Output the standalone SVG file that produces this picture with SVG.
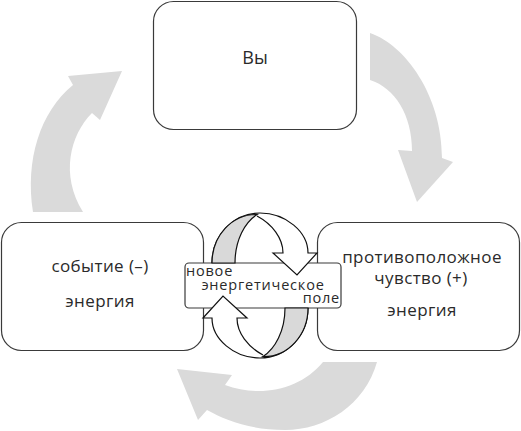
<svg xmlns="http://www.w3.org/2000/svg" width="521" height="431" viewBox="0 0 521 431">
<style>
.box{fill:#ffffff;stroke:#3a3a3a;stroke-width:1.2}
.big{fill:#dadada}
.t{font-family:"Open Sans","Liberation Sans",sans-serif;fill:#2a2a2a}
.lbl{font-size:17px;text-anchor:middle;letter-spacing:0.4px}
.small{font-size:14.5px;letter-spacing:0.8px}
.ring{stroke:#111;stroke-width:1.2;stroke-linejoin:miter}
</style>
<rect width="521" height="431" fill="#ffffff"/>
<g id="connectors">
  <path class="big" d="M370,33 C405,45 442,95 442,158 L453,162 L417,202 L398,150 L412,151 C412,115 395,88 370,80 Z"/>
  <path class="big" d="M33,212 C25,160 40,112 73,85 L68,76 L122,71 L100,120 L92,113 C70,135 60,175 83,212 Z"/>
  <path class="big" d="M177,369 L232,375 L225,385 C260,398 300,390 323,362 L377,362 C365,405 325,430 285,430 C250,430 225,420 207,410 L198,420 Z"/>
</g>
<g id="node-vy">
  <rect class="box" x="153.5" y="1.5" width="203" height="128" rx="20"/>
  <text class="t" x="255" y="64" font-size="18" text-anchor="middle">Вы</text>
</g>
<g id="node-event">
  <rect class="box" x="1.5" y="222.5" width="202" height="128" rx="20"/>
  <text class="t lbl" x="100" y="272">событие (–)</text>
  <text class="t lbl" x="100" y="307">энергия</text>
</g>
<g id="node-feeling">
  <rect class="box" x="317.5" y="222.5" width="202" height="128" rx="20"/>
  <text class="t lbl" x="422" y="263">противоположное</text>
  <text class="t lbl" x="421" y="284">чувство (+)</text>
  <text class="t lbl" x="422" y="316">энергия</text>
</g>
<g id="node-field">
  <rect class="box" x="185" y="263" width="156" height="45" rx="4"/>
  <text class="t small" x="186" y="276">новое</text>
  <text class="t small" x="263" y="290" text-anchor="middle">энергетическое</text>
  <text class="t small" x="340" y="303" text-anchor="end">поле</text>
</g>
<g id="cycle">
  <g id="arrow-up-half">
    <path class="ring" fill="#ffffff" d="M212,263 C212,235 234,213 260,213 C286,213 308,232 308,253 L317,253 L297,275 L273,253 L283,253 C283,238 272,224 257,216"/>
    <path class="ring" fill="#d9d9d9" d="M212,263 C212,236 232,214 257,214.5 C245,222 235,240 235,263 Z"/>
  </g>
  <g id="arrow-down-half" transform="rotate(180 260 285.5)">
    <path class="ring" fill="#ffffff" d="M212,263 C212,235 234,213 260,213 C286,213 308,232 308,253 L317,253 L297,275 L273,253 L283,253 C283,238 272,224 257,216"/>
    <path class="ring" fill="#d9d9d9" d="M212,263 C212,236 232,214 257,214.5 C245,222 235,240 235,263 Z"/>
  </g>
</g>
</svg>
